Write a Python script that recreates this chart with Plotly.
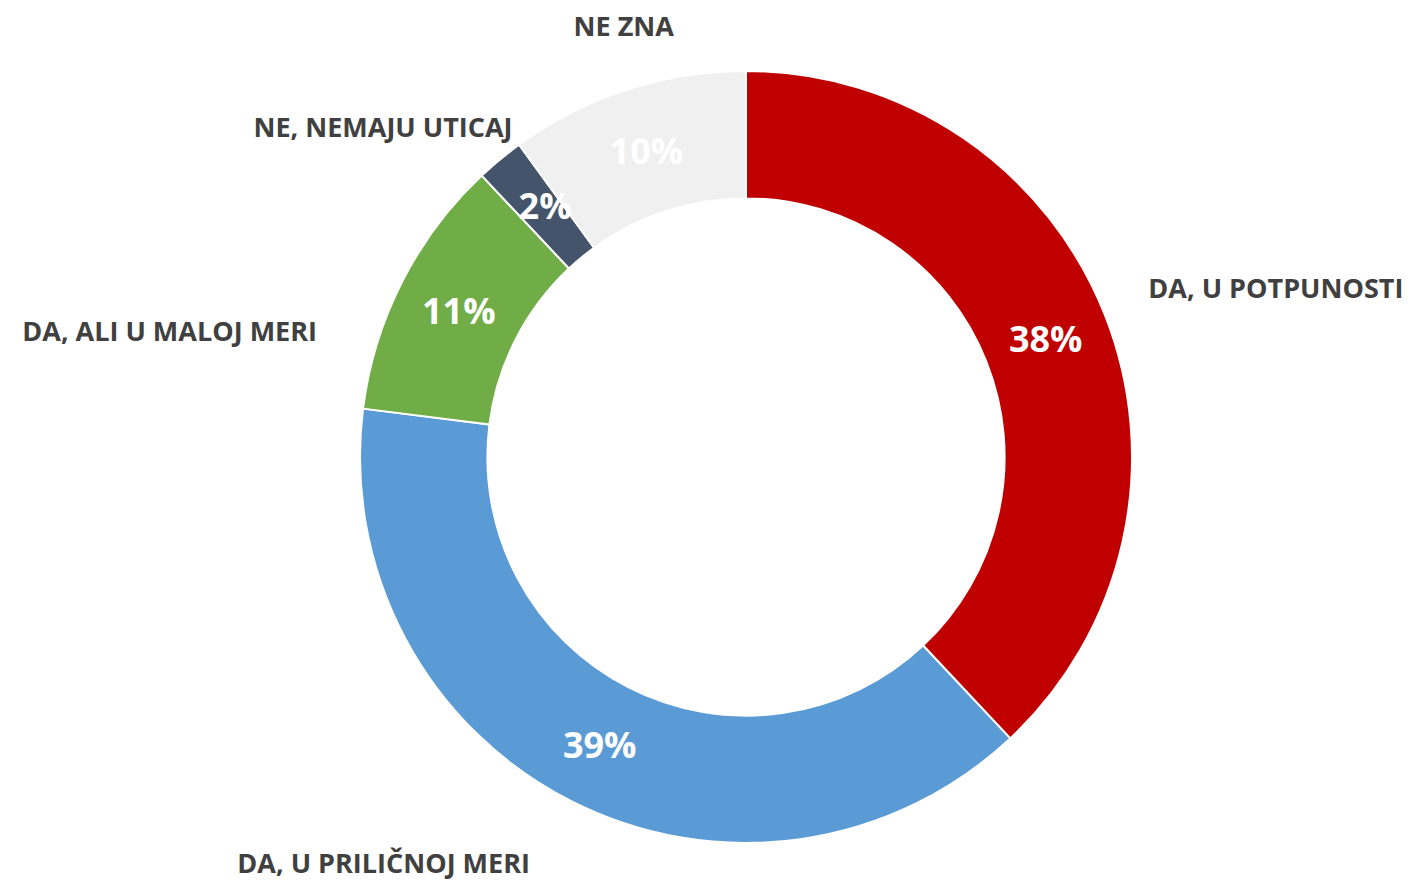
import plotly.graph_objects as go

categories = ["DA, U POTPUNOSTI", "DA, U PRILIČNOJ MERI", "DA, ALI U MALOJ MERI",
              "NE, NEMAJU UTICAJ", "NE ZNA"]
values = [38, 39, 11, 2, 10]
pct_labels = ["38%", "39%", "11%", "2%", "10%"]
colors = ["#C00000", "#5B9BD5", "#70AD47", "#44546A", "#F0F0F0"]

W, H = 1410, 892
# page body has an 8px margin, so compensate
cx, cy, R = 746 - 8, 457 - 8, 386
HOLE = 0.67

# styling: label ring radius (px) and angular nudge (deg) per category label
label_geom = {
    "DA, U POTPUNOSTI": (427, -1.4),
    "DA, U PRILIČNOJ MERI": (442, 0.9),
    "DA, ALI U MALOJ MERI": (438, -10.4),
    "NE, NEMAJU UTICAJ": (389, 4.4),
    "NE ZNA": (418, 9.4),
}
small_pct_geom = (285.5, 5.0)


def dom(r):
    return dict(x=[(cx - r) / W, (cx + r) / W], y=[(H - cy - r) / H, (H - cy + r) / H])


small = [v < 5 for v in values]
inside_text = [("" if s else t) for s, t in zip(small, pct_labels)]

fig = go.Figure()

# visible donut with percentages inside
fig.add_trace(go.Pie(
    labels=categories, values=values, text=inside_text,
    textinfo="text", textposition="inside", insidetextorientation="horizontal",
    sort=False, direction="clockwise", rotation=0, hole=HOLE,
    marker=dict(colors=colors, line=dict(color="#FFFFFF", width=2)),
    textfont=dict(family="Open Sans", size=36, color="#FFFFFF", weight="bold"),
    domain=dom(R), showlegend=False, hoverinfo="label+percent", automargin=False,
))

transparent = dict(colors=["rgba(0,0,0,0)"] * len(values), line=dict(width=0))

# category labels, one transparent ring per label
for i, cat in enumerate(categories):
    r, rot = label_geom[cat]
    fig.add_trace(go.Pie(
        labels=categories, values=values,
        text=[c if j == i else "" for j, c in enumerate(categories)],
        textinfo="text",
        textposition=["outside" if j == i else "none" for j in range(len(categories))],
        sort=False, direction="clockwise", rotation=rot, hole=0.98,
        marker=transparent,
        outsidetextfont=dict(family="Open Sans", size=27, color="#404040", weight="bold"),
        domain=dom(r), showlegend=False, hoverinfo="skip", automargin=False,
    ))

# percentages of slices too thin for inside text, overflowing the ring
r, rot = small_pct_geom
fig.add_trace(go.Pie(
    labels=categories, values=values,
    text=[(t if s else "") for s, t in zip(small, pct_labels)],
    textinfo="text", textposition=[("outside" if s else "none") for s in small],
    sort=False, direction="clockwise", rotation=rot, hole=0.98,
    marker=transparent,
    outsidetextfont=dict(family="Open Sans", size=36, color="#FFFFFF", weight="bold"),
    domain=dom(r), showlegend=False, hoverinfo="skip", automargin=False,
))

fig.update_layout(
    width=W, height=H,
    margin=dict(l=0, r=0, t=0, b=0, pad=0, autoexpand=False),
    showlegend=False,
    paper_bgcolor="#FFFFFF", plot_bgcolor="#FFFFFF",
    font=dict(family="Open Sans"),
)

fig.write_html("out.html")
